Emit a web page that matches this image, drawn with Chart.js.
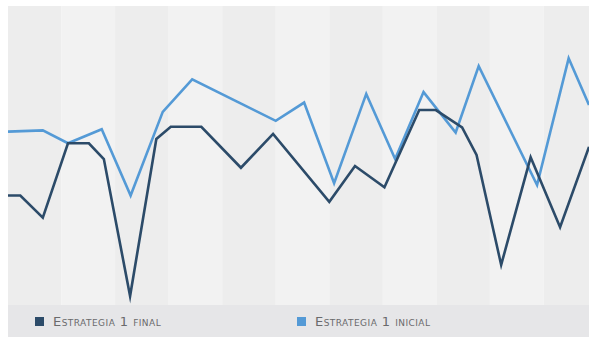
<!DOCTYPE html>
<html>
<head>
<meta charset="utf-8">
<script src="https://cdn.jsdelivr.net/npm/chart.js@4/dist/chart.umd.min.js"></script>
<style>
    html, body { margin: 0; padding: 0; background: #ffffff; }
    #wrap { position: relative; width: 589px; height: 337px; }
    #chart_box { position: absolute; left: 0; top: 0; width: 589px; height: 305px; }
    #legend { position: absolute; left: 8px; top: 305px; width: 581px; height: 32px; background: #e6e6e8; }
    #legend ul { list-style: none; margin: 0; padding: 0; }
    .legends_li { position: absolute; top: 0; height: 32px; display: flex; align-items: center; }
    .legend_box { display: inline-block; width: 9px; height: 9px; margin-right: 9px; margin-top: 1px; }
    .legend_text { margin: 0; font-family: "DejaVu Sans", sans-serif; font-size: 13px; font-variant: small-caps; color: #6a6a6c; letter-spacing: 0.45px; }
</style>
</head>
<body>
<div id="wrap">
    <div id="chart_box"><canvas id="strategy_chart" width="589" height="305"></canvas></div>
    <div id="legend"></div>
</div>
<script>
// x in band units (one shaded column = 1), y in % of plot height
var finalX = [0, 0.23, 0.65, 1.12, 1.51, 1.79, 2.28, 2.77, 3.04, 3.61, 4.35, 4.95, 6.00, 6.48, 7.03, 7.68, 7.99, 8.48, 8.75, 9.21, 9.76, 10.31, 10.85];
var finalY = [36.6, 36.6, 29.2, 54.1, 54.1, 48.8, 3.0, 55.5, 59.6, 59.6, 45.9, 57.2, 34.5, 46.5, 39.4, 65.2, 65.2, 59.4, 50.2, 13.4, 49.4, 26.0, 52.9];
var inicialX = [0, 0.65, 1.12, 1.75, 2.29, 2.89, 3.44, 5.00, 5.53, 6.09, 6.69, 7.23, 7.76, 8.36, 8.79, 9.88, 10.47, 10.85];
var inicialY = [58.0, 58.4, 54.1, 58.8, 36.6, 64.6, 75.5, 61.6, 67.7, 40.7, 70.6, 48.8, 71.2, 57.7, 79.9, 40.1, 82.5, 66.9];
var seriesNames = ["Estrategia 1 final", "Estrategia 1 inicial"];
var seriesColors = ["#2c4b69", "#549ad6"];
var xMax = 10.85;

function toPoints(xs, ys) {
    return xs.map(function (x, i) { return { x: x, y: ys[i] }; });
}

var bandPlugin = {
    id: "bands",
    beforeDatasetsDraw(chart) {
        var ctx = chart.ctx, area = chart.chartArea, xs = chart.scales.x;
        ctx.save();
        for (var i = 0; i < Math.ceil(xMax); i++) {
            var l = xs.getPixelForValue(i), r = Math.min(xs.getPixelForValue(i + 1), area.right);
            ctx.fillStyle = i % 2 == 0 ? "#ededed" : "#f2f2f2";
            ctx.fillRect(l, area.top, r - l, area.bottom - area.top);
        }
        ctx.restore();
    },
};

var htmlLegendPlugin = {
    id: "htmlLegend",
    afterUpdate(chart, args, options) {
        var box = document.getElementById(options.containerID);
        var ul = box.querySelector("ul") || box.appendChild(document.createElement("ul"));
        while (ul.firstChild) ul.firstChild.remove();
        var lefts = [27, 289];
        chart.data.datasets.forEach(function (ds, i) {
            var li = document.createElement("li"),
                boxSpan = document.createElement("span"),
                textP = document.createElement("p");
            li.classList = "legends_li";
            li.style.left = lefts[i] + "px";
            boxSpan.classList = "legend_box";
            boxSpan.style.background = ds.borderColor;
            textP.classList = "legend_text";
            textP.appendChild(document.createTextNode(ds.label));
            li.appendChild(boxSpan);
            li.appendChild(textP);
            ul.appendChild(li);
        });
    },
};

var myChart = new Chart(document.getElementById("strategy_chart"), {
    type: "line",
    data: {
        datasets: [
            { label: seriesNames[0], data: toPoints(finalX, finalY), borderColor: seriesColors[0], backgroundColor: seriesColors[0], borderWidth: 2.6, pointRadius: 0, tension: 0, fill: false },
            { label: seriesNames[1], data: toPoints(inicialX, inicialY), borderColor: seriesColors[1], backgroundColor: seriesColors[1], borderWidth: 2.6, pointRadius: 0, tension: 0, fill: false },
        ],
    },
    options: {
        responsive: false,
        animation: false,
        layout: { padding: { left: 8, top: 6, right: 0, bottom: 0 } },
        scales: {
            x: { type: "linear", min: 0, max: xMax, display: false },
            y: { min: 0, max: 100, display: false },
        },
        plugins: {
            legend: { display: false },
            tooltip: { enabled: false },
            htmlLegend: { containerID: "legend" },
        },
    },
    plugins: [bandPlugin, htmlLegendPlugin],
});
</script>
</body>
</html>
